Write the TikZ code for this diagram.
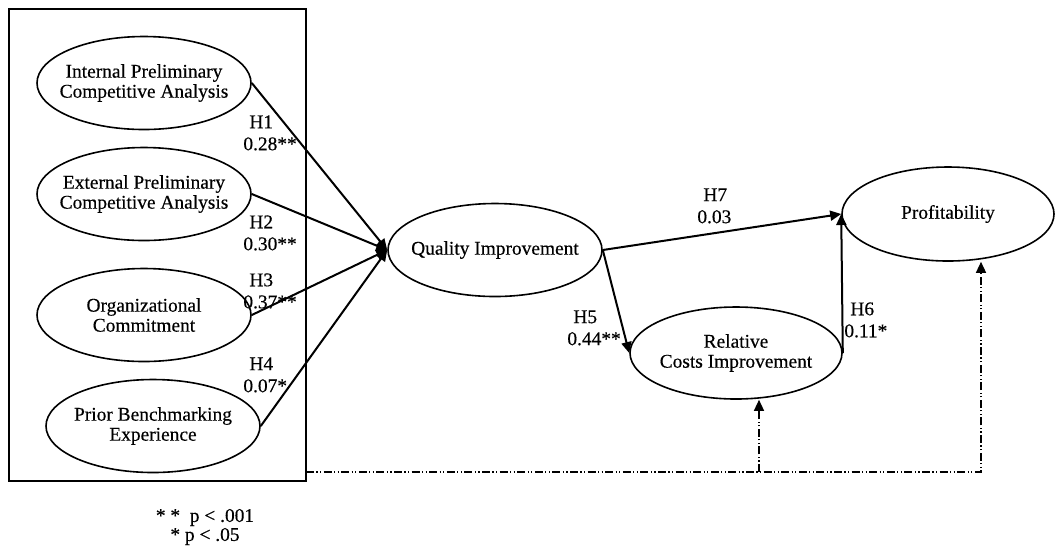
\documentclass[tikz,border=0pt]{standalone}
\usepackage{fontspec}
\setmainfont{Liberation Serif}[FakeBold=0.35]
\usetikzlibrary{shapes.geometric,arrows.meta}
\tikzset{
  construct/.style={draw, ellipse, line width=0.8pt, minimum width=107pt, minimum height=46.5pt,
    inner xsep=-12pt, inner ysep=0pt, align=center, font=\fontsize{9.7}{10}\selectfont},
  hyp/.style={align=left, inner sep=0pt, anchor=north west, font=\fontsize{9.7}{11}\selectfont},
  link/.style={-{Triangle[length=5.5pt,width=5pt]}, line width=1pt},
  control/.style={link, line width=0.7pt, dash pattern=on 4pt off 1.2pt on 0.6pt off 1.2pt on 0.6pt off 1.2pt}
}
\begin{document}
\begin{tikzpicture}[x=0.5pt,y=-0.5pt]
			\useasboundingbox (0,0) rectangle (1055,548);
			
			% Antecedents box
			\draw [line width=1pt] (9,9) rectangle (306,481);
			
			% Constructs
			\node [construct] (ipca) at (144,83) {Internal Preliminary\\Competitive Analysis};
			\node [construct] (epca) at (144,194) {External Preliminary\\Competitive Analysis};
			\node [construct] (orgc) at (144,315) {Organizational\\Commitment};
			\node [construct] (pbe) at (153,426) {Prior Benchmarking\\Experience};
			\node [construct] (qi) at (495,250) {Quality Improvement};
			\node [construct, minimum width=106pt, minimum height=46pt] (rci) at (736,353) {Relative\\Costs Improvement};
			\node [construct, minimum width=106pt, minimum height=47pt] (prof) at (948,214) {Profitability};
			
			% Paths
			\draw [link] (ipca.east) -- (qi.west);
			\draw [link] (epca.east) -- (qi.west);
			\draw [link] (orgc.east) -- (qi.west);
			\draw [link] (pbe.east) -- (qi.west);
			\draw [link] (qi.east) -- (prof.west);
			\draw [link] (qi.east) -- (rci.west);
			\draw [link] (rci.east) -- (prof.west);
			
			% Controls
			\coordinate (ctrl) at (306,472);
			\coordinate (ctrl1) at (759,472);
			\coordinate (ctrl2) at (981,472);
			\draw [control] (ctrl) -- (ctrl2) -- (ctrl2 |- prof.south);
			\draw [control] (ctrl1) -- (ctrl1 |- rci.south);
			
			% Path labels
			\node [hyp] (h1) at (243,115) {\hspace*{3pt}H1\\0.28**};
			\node [hyp] (h2) at (243,215) {\hspace*{3pt}H2\\0.30**};
			\node [hyp] (h3) at (243,273) {\hspace*{3pt}H3\\0.37**};
			\node [hyp] (h4) at (243,357) {\hspace*{3pt}H4\\0.07*};
			\node [hyp] (h5) at (567,310) {\hspace*{3pt}H5\\0.44**};
			\node [hyp] (h6) at (844,302) {\hspace*{3pt}H6\\0.11*};
			\node [hyp] (h7) at (697,188) {\hspace*{3pt}H7\\0.03};
			
			% Legend
			\node [align=center, inner sep=0pt, font=\fontsize{9.7}{9.5}\selectfont] (legend) at (205,527)
			  {* *\enspace p < .001\\* p < .05};
		\end{tikzpicture}
\end{document}
